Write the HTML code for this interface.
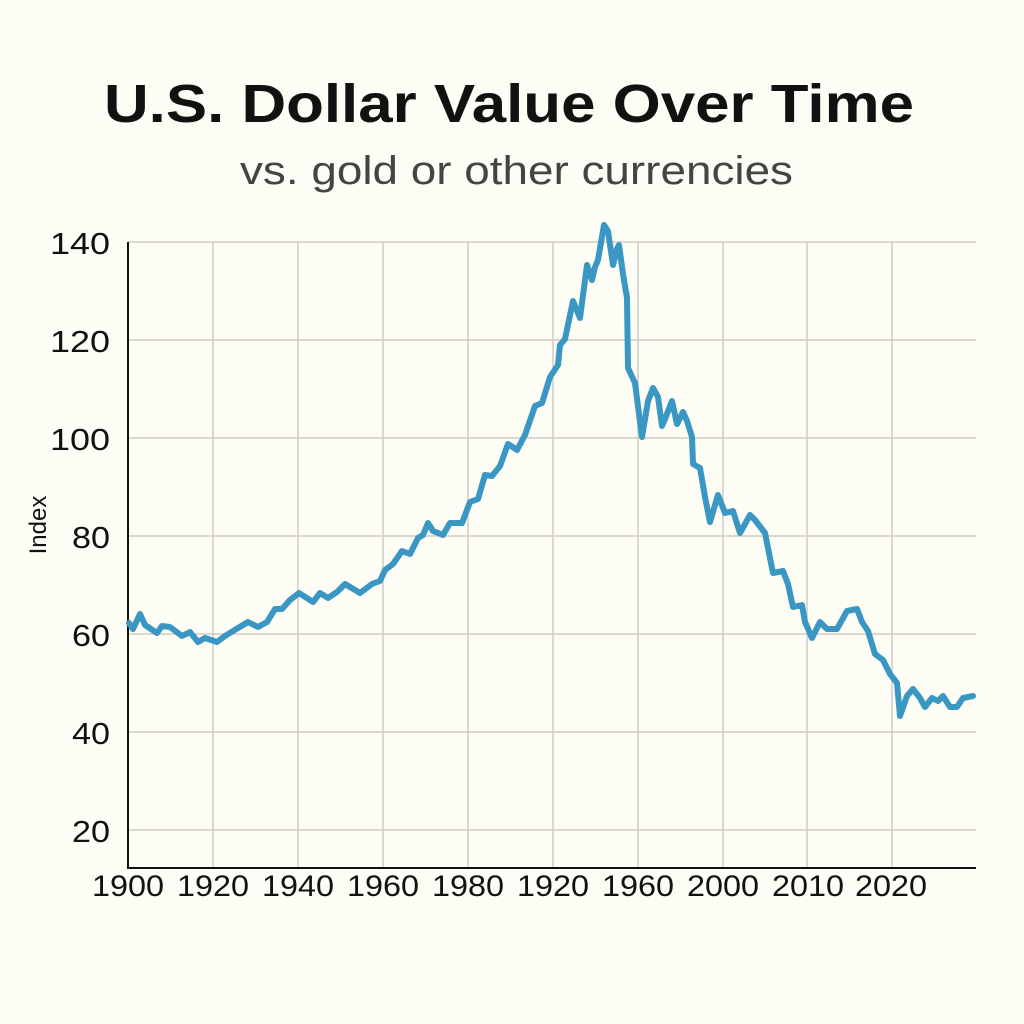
<!DOCTYPE html>
<html><head><meta charset="utf-8"><style>
html,body{margin:0;padding:0;background:#fdfcf5;}
svg{display:block;}
text{font-family:"Liberation Sans",sans-serif;}
</style></head><body>
<svg width="1024" height="1024" viewBox="0 0 1024 1024" xmlns="http://www.w3.org/2000/svg">
<rect width="1024" height="1024" fill="#fdfcf5"/>
<text x="104" y="122" font-size="54" font-weight="bold" fill="#111" textLength="810" lengthAdjust="spacingAndGlyphs">U.S. Dollar Value Over Time</text>
<text x="240" y="184" font-size="40" fill="#444" textLength="553" lengthAdjust="spacingAndGlyphs">vs. gold or other currencies</text>
<g stroke="#cfccc4" stroke-width="1.5">
<line x1="128" y1="242" x2="976" y2="242"/><line x1="128" y1="340" x2="976" y2="340"/>
<line x1="128" y1="438" x2="976" y2="438"/><line x1="128" y1="536" x2="976" y2="536"/>
<line x1="128" y1="634" x2="976" y2="634"/><line x1="128" y1="732" x2="976" y2="732"/>
<line x1="128" y1="830" x2="976" y2="830"/>
<line x1="213" y1="242" x2="213" y2="868"/><line x1="298" y1="242" x2="298" y2="868"/>
<line x1="383" y1="242" x2="383" y2="868"/><line x1="468" y1="242" x2="468" y2="868"/>
<line x1="553" y1="242" x2="553" y2="868"/><line x1="638" y1="242" x2="638" y2="868"/>
<line x1="723" y1="242" x2="723" y2="868"/><line x1="807" y1="242" x2="807" y2="868"/>
<line x1="892" y1="242" x2="892" y2="868"/>
</g>
<g stroke="#111" stroke-width="2"><line x1="128" y1="242" x2="128" y2="869"/><line x1="127" y1="868" x2="976" y2="868"/></g>
<g font-size="31" fill="#111">
<text x="50" y="254" textLength="60" lengthAdjust="spacingAndGlyphs">140</text><text x="50" y="352" textLength="60" lengthAdjust="spacingAndGlyphs">120</text><text x="50" y="450" textLength="60" lengthAdjust="spacingAndGlyphs">100</text>
<text x="72" y="548" textLength="38" lengthAdjust="spacingAndGlyphs">80</text><text x="72" y="646" textLength="38" lengthAdjust="spacingAndGlyphs">60</text><text x="72" y="744" textLength="38" lengthAdjust="spacingAndGlyphs">40</text><text x="72" y="842" textLength="38" lengthAdjust="spacingAndGlyphs">20</text>
</g>
<text transform="translate(46,525) rotate(-90)" font-size="24" fill="#111" text-anchor="middle">Index</text>
<g font-size="30" fill="#111">
<text x="92" y="896" textLength="72" lengthAdjust="spacingAndGlyphs">1900</text><text x="177" y="896" textLength="72" lengthAdjust="spacingAndGlyphs">1920</text><text x="262" y="896" textLength="72" lengthAdjust="spacingAndGlyphs">1940</text>
<text x="347" y="896" textLength="72" lengthAdjust="spacingAndGlyphs">1960</text><text x="432" y="896" textLength="72" lengthAdjust="spacingAndGlyphs">1980</text><text x="517" y="896" textLength="72" lengthAdjust="spacingAndGlyphs">1920</text>
<text x="602" y="896" textLength="72" lengthAdjust="spacingAndGlyphs">1960</text><text x="687" y="896" textLength="72" lengthAdjust="spacingAndGlyphs">2000</text><text x="772" y="896" textLength="72" lengthAdjust="spacingAndGlyphs">2010</text><text x="855" y="896" textLength="72" lengthAdjust="spacingAndGlyphs">2020</text>
</g>
<polyline fill="none" stroke="#3a97c4" stroke-width="6" stroke-linejoin="round" stroke-linecap="round" points="
129,623 133,629 140,614 145,625 157,633 162,626 170,627 182,636 190,632 198,642 205,638 217,642 225,636 233,631 248,622 258,627 267,622 275,609 282,609 290,600 299,593 313,602 320,593 328,598 337,592 345,584 360,593 372,584 380,581 385,570 393,564 402,551 410,554 418,538 423,535 428,523 433,531 443,535 450,523 462,523 470,502 478,499 485,475 492,476 500,466 508,444 517,450 525,435 535,406 542,403 550,377 558,365 560,345 565,339 573,301 580,318 587,265 592,280 595,267 598,260 604,225 608,231 613,265 617,249 619,245 623,274 627,298 628,368 635,383 642,437 648,401 653,388 658,397 662,426 665,419 672,401 677,424 683,412 687,421 692,437 693,464 700,468 705,497 710,522 718,495 725,513 733,511 740,533 750,515 755,520 765,533 773,573 783,571 788,584 793,607 802,605 805,622 812,638 820,622 827,629 837,629 847,611 857,609 862,622 868,631 875,654 883,660 890,674 897,683 900,716 907,696 913,689 920,698 925,707 932,698 938,701 943,696 950,707 957,707 963,698 973,696"/>
</svg>
</body></html>
